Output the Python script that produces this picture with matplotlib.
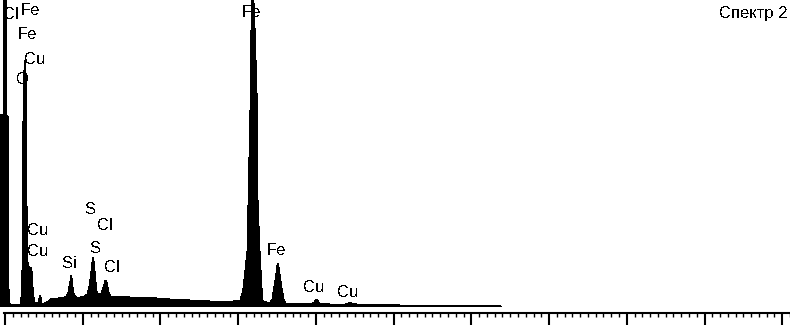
import numpy as np
import matplotlib
matplotlib.use("Agg")
import matplotlib.pyplot as plt
from matplotlib.ticker import MultipleLocator

plt.rcParams['font.family'] = ['Liberation Sans', 'DejaVu Sans']
plt.rcParams['text.antialiased'] = False

# EDS spectrum: energy (keV) and counts (arb.)
energy = [-0.13, -0.04, -0.03, 0.03, 0.04, 0.08, 0.10, 0.12, 0.15, 0.20, 0.30, 0.39,
          0.41, 0.44, 0.46, 0.49, 0.515, 0.54, 0.57, 0.59, 0.62, 0.64, 0.67, 0.70,
          0.72, 0.75, 0.77, 0.80, 0.85, 0.88, 0.90, 0.93, 0.95, 1.00, 1.06, 1.11,
          1.16, 1.24, 1.31, 1.42, 1.52, 1.57, 1.62, 1.67, 1.70, 1.72, 1.75, 1.78,
          1.83, 1.88, 1.93, 2.03, 2.11, 2.16, 2.21, 2.25, 2.27, 2.30, 2.34, 2.37,
          2.42, 2.47, 2.52, 2.57, 2.60, 2.63, 2.67, 2.72, 2.80, 2.96, 3.20, 3.50,
          3.70, 4.00, 4.25, 4.50, 4.76, 5.00, 5.28, 5.50, 5.79, 6.05, 6.12, 6.23,
          6.255, 6.31, 6.33, 6.36, 6.38, 6.41, 6.435, 6.49, 6.51, 6.56, 6.615, 6.64,
          6.72, 6.82, 6.87, 6.92, 6.98, 7.00, 7.03, 7.05, 7.08, 7.13, 7.18, 7.23,
          7.34, 7.60, 7.85, 7.95, 8.005, 8.06, 8.11, 8.37, 8.75, 8.88, 8.93, 9.04,
          9.14, 10.17, 11.45, 12.74, 12.79, 20.2]
counts = [1920, 1930, 3400, 3400, 1920, 1900, 200, 40, 25, 25, 25, 30,
          80, 400, 1800, 2400, 2470, 2350, 800, 450, 400, 380, 400, 350,
          200, 80, 50, 50, 50, 90, 120, 90, 40, 35, 50, 60,
          80, 90, 85, 95, 100, 110, 150, 250, 320, 300, 200, 130,
          100, 95, 100, 110, 130, 200, 350, 490, 500, 430, 250, 150,
          130, 140, 190, 260, 270, 240, 150, 110, 100, 110, 100, 95,
          100, 85, 80, 75, 70, 70, 60, 60, 55, 70, 170, 570,
          1070, 2070, 2770, 3400, 3400, 3000, 2770, 2070, 1070, 570, 170, 60,
          50, 50, 80, 200, 350, 420, 440, 400, 320, 180, 80, 40,
          40, 35, 30, 50, 80, 60, 35, 30, 30, 45, 40, 30,
          22, 20, 18, 15, 0, 0]

# peak labels: text, energy, counts at top of text
labels = ["Cl", "Fe", "Fe", "Cu", "O", "Cu", "Cu", "Si", "S", "Cl", "S", "Cl",
          "Fe", "Fe", "Cu", "Cu"]
label_e = [-0.04, 0.39, 0.33, 0.49, 0.30, 0.57, 0.57, 1.47, 2.07, 2.36, 2.20, 2.54,
           6.10, 6.74, 7.67, 8.55]
label_c = [3000, 3040, 2800, 2550, 2350, 840, 630, 510, 1050, 890, 660, 470,
           3020, 640, 270, 220]

fig = plt.figure(figsize=(7.9, 3.25), dpi=100)
ax = fig.add_axes([0, 12 / 325, 1, 313 / 325])

ax.fill_between(energy, 0, counts, color='black', linewidth=0, antialiased=False, zorder=2)

for t, e, c in zip(labels, label_e, label_c):
    ax.text(e, c, t, fontsize=12, ha='left', va='top', zorder=1)

ax.text(0.997, 0.98, "Спектр 2", transform=ax.transAxes, fontsize=12,
        ha='right', va='top')

ax.set_xlim(-0.129, 20.2)
ax.set_ylim(-60, 3070)

for s in ['left', 'right', 'top']:
    ax.spines[s].set_visible(False)
ax.spines['bottom'].set_linewidth(1.5)
ax.spines['bottom'].set_bounds(-0.03, 20.2)
ax.set_yticks([])
ax.xaxis.set_major_locator(MultipleLocator(2))
ax.xaxis.set_minor_locator(MultipleLocator(0.2))
ax.tick_params(axis='x', which='major', direction='out', length=8.5, width=1.5,
               labelbottom=False)
ax.tick_params(axis='x', which='minor', direction='out', length=3, width=1)

fig.savefig("out.png", dpi=100)
